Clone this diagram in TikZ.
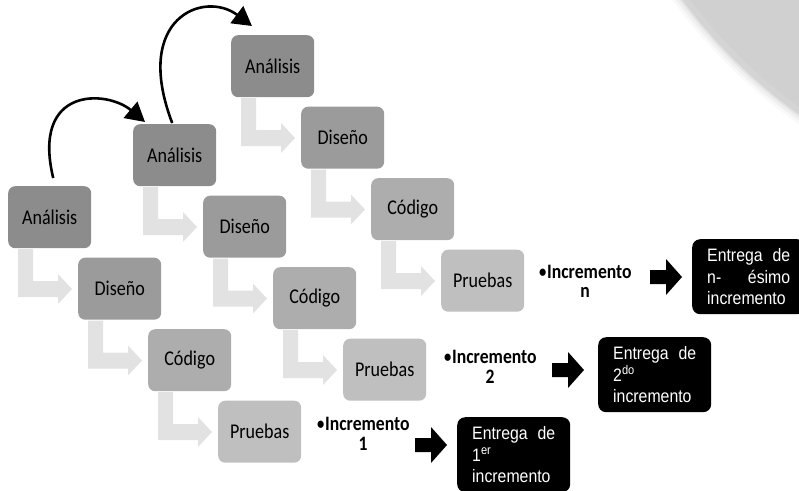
\documentclass[tikz,border=0pt]{standalone}
\usepackage{fontspec}
\setmainfont[FakeStretch=0.86]{Carlito}
\newfontfamily\arialf[FakeStretch=0.88]{Liberation Sans}
\usetikzlibrary{arrows.meta,calc}
\definecolor{cA}{HTML}{8C8C8C}
\definecolor{cD}{HTML}{9B9B9B}
\definecolor{cC}{HTML}{ADADAD}
\definecolor{cP}{HTML}{BFBFBF}
\definecolor{cL}{HTML}{E2E2E2}
\definecolor{cCirc}{HTML}{D0D0D0}
\newcommand{\jline}[2]{\makebox[83pt]{#1\hfill #2}}
\newcommand{\smallbul}{{\mdseries\textbullet}}
\tikzset{
  gbox/.style={rounded corners=7pt, minimum width=83pt, minimum height=62pt,
    inner sep=0pt, anchor=north west, font=\fontsize{21}{22}\selectfont},
  ebox/.style={fill=black, text=white, rounded corners=8pt, minimum width=113pt,
    minimum height=75pt, inner sep=0pt, anchor=north west, align=left, text width=83pt,
    font=\arialf\fontsize{18}{21.5}\selectfont},
  inclabel/.style={anchor=north, align=center, inner sep=0pt,
    font=\bfseries\fontsize{20.5}{19.5}\selectfont},
  carrow/.style={line width=2.6pt, -{Triangle[length=19pt,width=21pt]}},
  lshape/.style={fill=cL},
  barrow/.style={fill=black}
}
\begin{document}
\begin{tikzpicture}[x=1pt,y=-1pt]
\useasboundingbox (0,0) rectangle (799,490);
% big circle top right
\begin{scope}
\clip (0,0) rectangle (799,490);
\foreach \r/\o in {10/0.025,7/0.035,4/0.05,2/0.07}
  \fill[black,opacity=\o] (1101,-310) circle[radius=519pt+\r pt];
\fill[cCirc] (1104,-313) circle[radius=519pt];
\end{scope}
% process boxes
\foreach \g/\x/\y in {1/8/186, 2/133/124, 3/231/35} {
  \node[gbox, fill=cA] (a\g) at (\x,\y) {Análisis};
  \node[gbox, fill=cD] (d\g) at (\x+70,\y+71.5) {Diseño};
  \node[gbox, fill=cC] (c\g) at (\x+140,\y+143) {Código};
  \node[gbox, fill=cP] (p\g) at (\x+210,\y+214.5) {Pruebas};
}
% L-shaped light arrows
\foreach \g in {1,2,3} {
  \foreach \n in {a,d,c} {
    \fill[lshape, shift={(\n\g.north west)}]
      (10,63) -- (25,63) -- (25,95) -- (50,95) -- (50,88) -- (64,103)
      -- (50,118) -- (50,111) -- (10,111) -- cycle;
  }
}
% curved arrows
\draw[carrow] ([xshift=3.5pt,yshift=8pt]a1.north) .. controls +(-22,-92) and +(-38,-32) .. ([xshift=12pt,yshift=2pt]a2.north west);
\draw[carrow] ([xshift=-2.5pt,yshift=1pt]a2.north) .. controls +(-40,-105) and +(-48,-36) .. ([xshift=21pt,yshift=9pt]a3.north west);
% increment labels
\node[inclabel] (i1) at ($(p1.north west)+(145,16.5)$) {\smallbul Incremento\\1};
\node[inclabel] (i2) at ($(p2.north west)+(147,11.5)$) {\smallbul Incremento\\2};
\node[inclabel] (i3) at ($(p3.north west)+(144,15.5)$) {\smallbul Incremento\\n};
% deliveries
\node[ebox] (e3) at (692,239) {\jline{Entrega}{de}\\\jline{n-}{ésimo}\\incremento};
\node[ebox] (e2) at (598,337) {\jline{Entrega}{de}\\2\textsuperscript{do}\\incremento};
\node[ebox] (e1) at (457,417) {\jline{Entrega}{de}\\1\textsuperscript{er}\\incremento};
% block arrows
\foreach \px/\py in {650/277, 552/370, 415/445}
  \fill[barrow, shift={(\px,\py)}] (0,-7) -- (16,-7) -- (16,-18) -- (32,0) -- (16,18) -- (16,7) -- (0,7) -- cycle;
\end{tikzpicture}
\end{document}
